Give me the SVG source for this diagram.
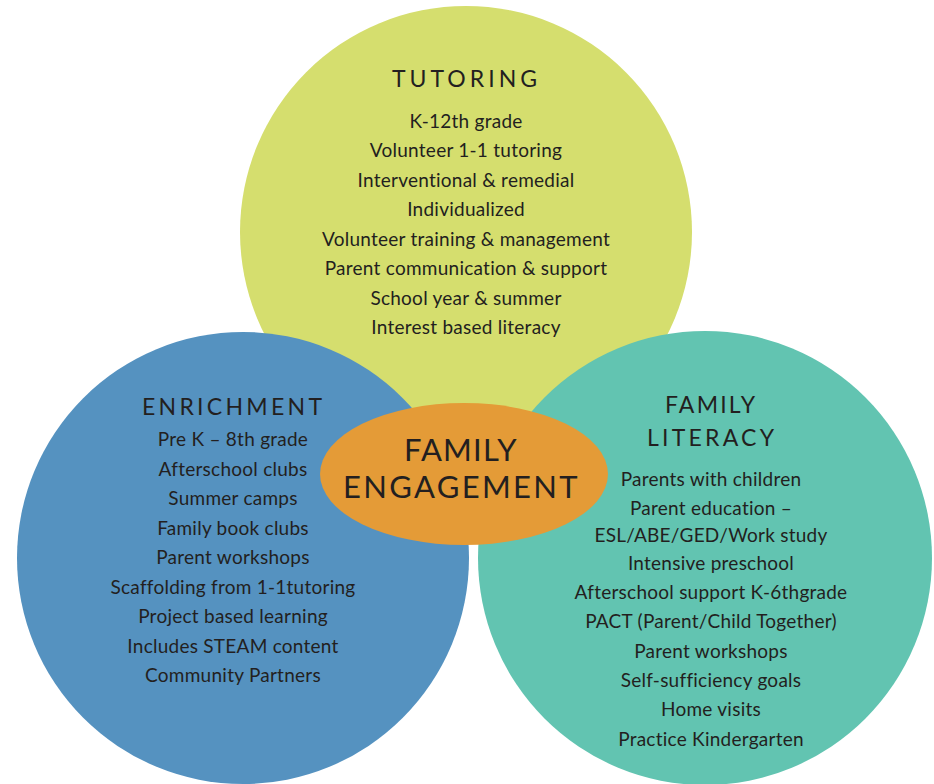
<svg xmlns="http://www.w3.org/2000/svg" width="934" height="784" viewBox="0 0 934 784">
<style>
text{font-family:Lato,"Open Sans","Liberation Sans",sans-serif;fill:#231f20;text-anchor:middle}
.it{font-size:19px;letter-spacing:0.25px}
.tt{font-size:23px;letter-spacing:3px}
.ct{font-size:31px;letter-spacing:3.5px}
</style>
<rect width="934" height="784" fill="#ffffff"/>
<g id="tutoring">
<circle cx="466" cy="232" r="226" fill="#d5de6e"/>
<text class="tt" x="466" y="87" textLength="148" lengthAdjust="spacing">TUTORING</text>
<text class="it" x="466" y="127.5">K-12th grade</text>
<text class="it" x="466" y="157">Volunteer 1-1 tutoring</text>
<text class="it" x="466" y="186.5">Interventional &amp; remedial</text>
<text class="it" x="466" y="216">Individualized</text>
<text class="it" x="466" y="245.5">Volunteer training &amp; management</text>
<text class="it" x="466" y="275">Parent communication &amp; support</text>
<text class="it" x="466" y="304.5">School year &amp; summer</text>
<text class="it" x="466" y="334">Interest based literacy</text>
</g>
<g id="enrichment">
<circle cx="243" cy="558" r="226" fill="#5592c0"/>
<text class="tt" x="233.5" y="415" textLength="183" lengthAdjust="spacing">ENRICHMENT</text>
<text class="it" x="233" y="446">Pre K – 8th grade</text>
<text class="it" x="233" y="475.5">Afterschool clubs</text>
<text class="it" x="233" y="505">Summer camps</text>
<text class="it" x="233" y="534.5">Family book clubs</text>
<text class="it" x="233" y="564">Parent workshops</text>
<text class="it" x="233" y="593.5">Scaffolding from 1-1tutoring</text>
<text class="it" x="233" y="623">Project based learning</text>
<text class="it" x="233" y="652.5">Includes STEAM content</text>
<text class="it" x="233" y="682">Community Partners</text>
</g>
<g id="family-literacy">
<circle cx="705" cy="558" r="227" fill="#62c4b1"/>
<text class="tt" x="711.5" y="413" textLength="93" lengthAdjust="spacing">FAMILY</text>
<text class="tt" x="712" y="446" textLength="130" lengthAdjust="spacing">LITERACY</text>
<text class="it" x="711" y="486">Parents with children</text>
<text class="it" x="711" y="515">Parent education –</text>
<text class="it" x="711" y="541.5">ESL/ABE/GED/Work study</text>
<text class="it" x="711" y="570">Intensive preschool</text>
<text class="it" x="711" y="599">Afterschool support K-6thgrade</text>
<text class="it" x="711" y="628">PACT (Parent/Child Together)</text>
<text class="it" x="711" y="657.5">Parent workshops</text>
<text class="it" x="711" y="687">Self-sufficiency goals</text>
<text class="it" x="711" y="716">Home visits</text>
<text class="it" x="711" y="745.5">Practice Kindergarten</text>
</g>
<g id="family-engagement">
<ellipse cx="464" cy="474" rx="144" ry="71" fill="#e49b37"/>
<text class="ct" x="462" y="461" textLength="116" lengthAdjust="spacing">FAMILY</text>
<text class="ct" x="462" y="498" textLength="238" lengthAdjust="spacing">ENGAGEMENT</text>
</g>
<g id="connectors"/>
</svg>
